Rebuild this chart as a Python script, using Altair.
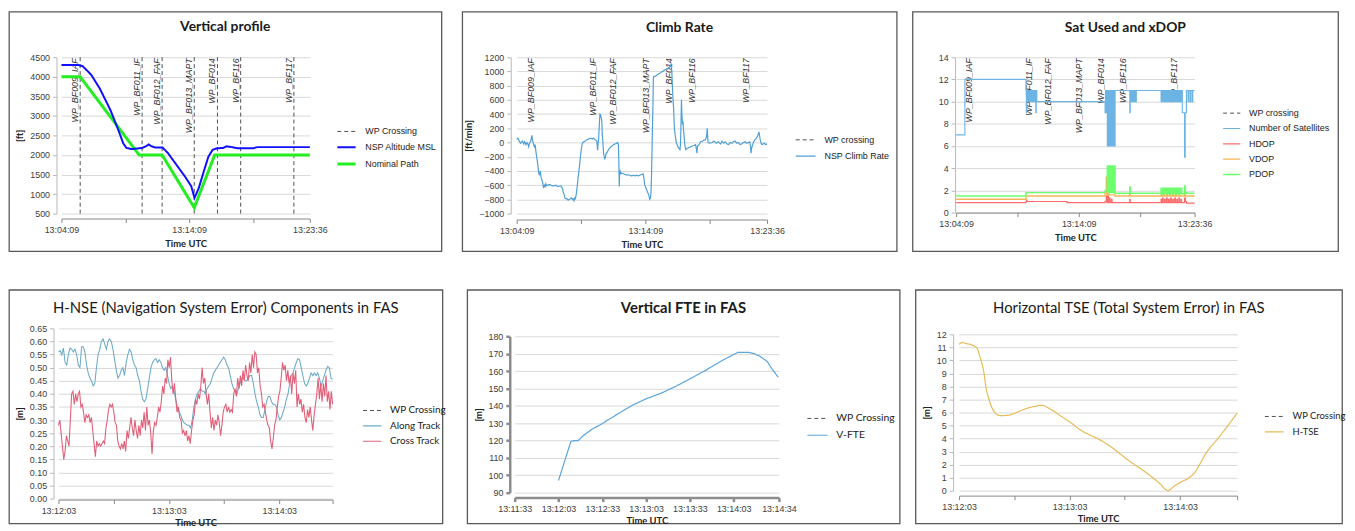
import altair as alt
import pandas as pd
import numpy as np

DAY = "2020-01-01"

# ---------------- data ----------------
WP_SEC = [88, 379, 473, 624, 733, 842, 1092]          # seconds after 13:04:09
WP_LABELS = ["WP_BF009_IAF", "WP_BF011_IF", "WP_BF012_FAF", "WP_BF013_MAPT",
             "WP_BF014", "WP_BF116", "WP_BF117"]

# Vertical profile (seconds after 13:04:09, ft)
ALT_T = [0, 80, 100, 140, 180, 230, 270, 290, 305, 330, 380, 400, 410, 420, 440, 475, 500,
         540, 580, 610, 625, 645, 670, 690, 710, 730, 760, 775, 800, 830, 900, 920, 1167]
ALT_V = [4300, 4300, 4270, 4050, 3700, 3150, 2600, 2300, 2180, 2150, 2180, 2230, 2270, 2230,
         2190, 2190, 2050, 1750, 1450, 1200, 900, 1150, 1600, 1950, 2130, 2170, 2180, 2220,
         2200, 2170, 2170, 2200, 2200]
NOM_T = [0, 88, 365, 473, 624, 720, 1167]
NOM_V = [4000, 4000, 2000, 2000, 650, 2000, 2000]

# Climb rate (seconds after 13:04:09, ft/min)
CLIMB = [(0,50),(6,60),(12,20),(18,-10),(21,0),(27,20),(33,-20),(37,10),(43,-30),(48,0),(52,-20),
 (56,-60),(60,-10),(66,20),(71,100),(74,30),(77,0),(80,-40),(83,-60),(86,-30),(89,-110),(93,-200),
 (98,-300),(102,-420),(106,-460),(110,-400),(113,-480),(117,-520),(121,-560),(125,-640),(129,-600),
 (133,-620),(136,-580),(140,-610),(144,-600),(150,-590),(159,-600),(167,-610),(175,-610),(183,-600),
 (190,-620),(198,-615),(205,-610),(210,-630),(213,-640),(217,-700),(221,-730),(225,-780),(228,-790),
 (234,-790),(240,-810),(244,-800),(250,-790),(255,-780),(259,-800),(263,-790),(267,-820),(271,-780),
 (274,-790),(278,-720),(282,-620),(286,-500),(290,-400),(294,-300),(297,-200),(301,-100),(305,-20),
 (309,0),(313,10),(320,20),(328,40),(336,50),(344,60),(352,50),(359,60),(365,40),(371,30),(374,10),
 (377,-110),(379,-30),(382,50),(386,300),(388,400),(391,390),(394,350),(397,300),(399,100),(402,0),
 (405,-150),(408,-200),(411,-230),(413,-220),(417,-150),(420,-150),(428,-100),(436,-70),(444,-50),
 (451,-30),(459,-20),(466,-10),(470,0),(474,-20),(476,-250),(478,-620),(480,-420),(482,-400),
 (486,-440),(489,-430),(497,-440),(505,-450),(513,-460),(520,-455),(528,-460),(536,-470),(544,-460),
 (552,-470),(558,-460),(566,-470),(574,-460),(582,-450),(589,-440),(593,-500),(597,-600),(604,-650),
 (610,-700),(616,-740),(620,-800),(624,-780),(626,-700),(629,-400),(632,100),(635,500),(637,900),
 (639,930),(645,930),(650,940),(658,960),(666,970),(673,990),(681,1000),(689,1020),(696,1030),
 (704,1040),(712,1060),(716,1080),(719,1100),(723,1000),(727,700),(731,500),(735,200),(737,150),
 (739,100),(744,0),(750,-50),(756,-80),(761,-100),(764,0),(766,300),(768,600),(770,400),(773,250),
 (775,300),(777,200),(780,100),(784,-50),(788,-100),(796,-80),(804,-70),(812,-60),(819,-50),
 (827,-40),(834,-30),(838,-100),(840,-150),(843,-50),(850,-30),(857,10),(865,20),(872,30),(880,40),
 (885,80),(888,200),(890,100),(892,0),(900,-10),(911,0),(920,20),(930,-10),(940,10),(950,-20),
 (957,20),(965,-10),(973,10),(980,-20),(988,-30),(995,0),(1003,-10),(1010,10),(1018,20),(1026,-10),
 (1034,0),(1041,-30),(1049,-20),(1057,0),(1064,10),(1072,-10),(1080,0),(1086,10),(1090,-60),
 (1092,-150),(1095,-80),(1099,-40),(1103,0),(1110,40),(1118,60),(1124,100),(1129,150),(1132,100),
 (1135,40),(1138,0),(1143,-30),(1149,-20),(1155,-10),(1160,-30),(1167,-20)]

# Satellites and DOP (seconds after 13:04:09)
SAT = [(0,7),(43,12),(342,11),(344,9),(346,11),(349,10),(352,11),(355,10),(358,11),(361,10),(364,11),
 (367,10),(370,11),(373,10),(376,11),(379,10),(382,11),(385,10),(388,11),(390,9),(392,11),(395,10),
 (729,9),(731,11),(733,9),(735,11),(737,9),(740,6),(742,11),(745,6),(748,11),(751,6),(754,11),(757,6),
 (760,11),(763,6),(766,11),(769,6),(772,11),(775,6),(778,11),(850,9),(852,11),(856,10),(860,11),
 (864,10),(868,11),(872,10),(876,11),(880,10),(882,11),(1003,10),(1006,11),(1010,10),(1014,11),
 (1018,10),(1022,11),(1026,10),(1030,11),(1034,10),(1038,11),(1042,10),(1046,11),(1050,10),(1054,11),
 (1058,10),(1062,11),(1066,10),(1070,11),(1074,10),(1078,11),(1082,10),(1086,11),(1090,10),(1094,11),
 (1098,10),(1102,11),(1107,9),(1118,5),(1121,9),(1127,11),(1135,10),(1138,11),(1145,10),(1148,11),
 (1155,10),(1158,11),(1167,11)]
HDOP = [(0,0.9),(342,1.0),(345,1.1),(347,1.0),(543,0.9),(729,1.0),(735,1.5),(738,0.9),(742,1.5),
 (745,0.9),(750,1.3),(753,0.9),(760,1.2),(763,0.9),(850,1.2),(852,0.9),(1003,1.2),(1006,0.9),
 (1010,1.3),(1013,0.9),(1020,1.2),(1023,0.9),(1030,1.3),(1033,0.9),(1040,1.2),(1043,0.9),(1050,1.3),
 (1053,0.9),(1060,1.2),(1063,0.9),(1070,1.3),(1073,0.9),(1080,1.2),(1083,0.9),(1090,1.3),(1093,0.9),
 (1100,1.2),(1103,0.9),(1118,1.3),(1122,1.0),(1127,0.85),(1167,0.85)]
VDOP = [(0,1.2),(342,1.5),(729,1.8),(735,3.2),(738,1.6),(745,2.0),(748,1.6),(778,1.5),(850,1.9),
 (852,1.5),(1003,1.7),(1006,1.5),(1015,1.8),(1018,1.5),(1030,1.8),(1033,1.5),(1045,1.8),(1048,1.5),
 (1060,1.8),(1063,1.5),(1075,1.8),(1078,1.5),(1090,1.8),(1093,1.5),(1118,1.7),(1122,1.5),(1167,1.5)]
PDOP = [(0,1.5),(342,1.8),(729,2.0),(740,4.2),(742,1.8),(745,4.2),(748,1.8),(751,4.2),(754,1.8),
 (757,4.2),(760,1.8),(763,4.2),(766,1.8),(769,4.2),(772,1.8),(775,4.2),(778,1.75),(850,2.3),
 (852,1.75),(1003,2.2),(1006,1.7),(1010,2.2),(1013,1.7),(1017,2.2),(1020,1.7),(1024,2.2),(1027,1.7),
 (1031,2.2),(1034,1.7),(1038,2.2),(1041,1.7),(1045,2.2),(1048,1.7),(1052,2.2),(1055,1.7),(1059,2.2),
 (1062,1.7),(1066,2.2),(1069,1.7),(1073,2.2),(1076,1.7),(1080,2.2),(1083,1.7),(1087,2.2),(1090,1.7),
 (1094,2.2),(1097,1.7),(1101,2.2),(1104,1.7),(1118,2.4),(1122,1.8),(1127,1.75),(1167,1.75)]

# H-NSE components (uniform samples from 13:12:03 to 13:14:32)
ALONG = [0.56,0.565,0.55,0.575,0.52,0.51,0.55,0.575,0.57,0.56,0.57,0.55,0.51,0.50,0.58,0.58,0.56,
 0.51,0.48,0.46,0.45,0.43,0.44,0.50,0.55,0.57,0.60,0.61,0.59,0.57,0.60,0.61,0.60,0.57,0.53,0.49,0.46,
 0.47,0.49,0.50,0.47,0.52,0.55,0.57,0.56,0.53,0.51,0.50,0.47,0.45,0.41,0.38,0.37,0.38,0.42,0.46,0.50,
 0.52,0.53,0.535,0.52,0.53,0.52,0.50,0.49,0.50,0.47,0.44,0.42,0.43,0.41,0.38,0.35,0.33,0.32,0.30,
 0.29,0.285,0.28,0.28,0.27,0.30,0.35,0.38,0.40,0.41,0.42,0.41,0.41,0.40,0.42,0.43,0.44,0.46,0.48,
 0.49,0.50,0.51,0.52,0.53,0.54,0.53,0.51,0.50,0.47,0.44,0.42,0.41,0.40,0.42,0.44,0.46,0.46,0.45,
 0.45,0.46,0.47,0.47,0.44,0.40,0.37,0.35,0.32,0.31,0.31,0.34,0.37,0.39,0.39,0.37,0.36,0.36,0.35,
 0.32,0.30,0.31,0.33,0.35,0.38,0.40,0.44,0.47,0.48,0.50,0.52,0.535,0.53,0.50,0.47,0.44,0.43,0.44,
 0.46,0.48,0.47,0.48,0.47,0.48,0.46,0.43,0.45,0.47,0.49,0.505,0.50,0.46,0.455]
CROSS = [0.28,0.30,0.25,0.20,0.15,0.18,0.24,0.22,0.20,0.30,0.40,0.41,0.36,0.40,0.37,0.40,0.41,0.35,
 0.36,0.33,0.29,0.32,0.31,0.32,0.29,0.31,0.26,0.21,0.16,0.22,0.20,0.21,0.20,0.21,0.22,0.21,0.27,0.30,
 0.34,0.36,0.35,0.36,0.33,0.29,0.28,0.22,0.20,0.19,0.21,0.19,0.22,0.18,0.26,0.23,0.27,0.31,0.27,0.24,
 0.30,0.26,0.23,0.28,0.24,0.30,0.27,0.33,0.26,0.35,0.28,0.30,0.25,0.17,0.26,0.29,0.28,0.31,0.35,0.33,
 0.37,0.43,0.40,0.46,0.44,0.53,0.50,0.54,0.45,0.40,0.44,0.38,0.33,0.35,0.31,0.30,0.25,0.26,0.24,0.26,
 0.22,0.24,0.21,0.26,0.30,0.32,0.38,0.36,0.40,0.38,0.43,0.50,0.44,0.46,0.40,0.36,0.40,0.33,0.27,0.31,
 0.26,0.30,0.28,0.32,0.29,0.24,0.28,0.33,0.35,0.36,0.33,0.35,0.33,0.34,0.33,0.40,0.42,0.39,0.46,0.42,
 0.47,0.43,0.49,0.45,0.51,0.47,0.45,0.52,0.48,0.55,0.50,0.56,0.55,0.48,0.50,0.43,0.40,0.35,0.36,0.33,
 0.30,0.28,0.27,0.22,0.19,0.23,0.28,0.30,0.35,0.39,0.41,0.46,0.52,0.49,0.51,0.45,0.49,0.44,0.47,0.40,
 0.48,0.44,0.49,0.35,0.40,0.36,0.38,0.33,0.36,0.31,0.29,0.34,0.31,0.35,0.30,0.26,0.32,0.36,0.40,0.46,
 0.38,0.44,0.37,0.44,0.39,0.47,0.37,0.41,0.34,0.41,0.36]
NSE_SPAN = 149  # seconds

# Vertical FTE (seconds after 13:11:33, m)
VFTE = [(30,97),(38.5,119.5),(41,120),(43.5,120),(46.5,122.5),(52,126),(60,129.8),(70,135),
 (81,140.5),(90,144),(101,147.5),(111,151.5),(120,155.5),(131,160.5),(142,166),(150,169.5),
 (153,170.8),(160,170.8),(164,170),(168,168.5),(173,165.5),(176,161.5),(180.5,156.5)]

# Horizontal TSE (seconds after 13:12:03, m)
HTSE = [(0,11.24),(1.8,11.37),(3.6,11.3),(7.2,11.17),(9.9,10.9),(11.6,10.15),(13.4,9.14),
 (14.7,7.87),(16.1,7.1),(17.9,6.35),(19.7,5.96),(22.4,5.76),(26.9,5.79),(30.4,5.96),(35.8,6.27),
 (41.2,6.47),(44.8,6.55),(50.1,6.22),(55.5,5.71),(60.9,5.2),(66.3,4.62),(71.6,4.24),(77,3.86),
 (82.4,3.38),(87.8,2.79),(93.1,2.21),(98.5,1.7),(103.9,1.14),(109.3,0.51),(113.4,0.0),(116.4,0.3),
 (120,0.63),(124.5,0.96),(128,1.4),(130.7,2.03),(134.3,2.92),(139.7,3.86),(145.1,4.82),(151,5.96)]

# ---------------- helpers ----------------
TICK_FONT = "Liberation Sans"
TITLE_FONT = "Lato"
WP_NAME = "WP Crossing"
WP_COLOR = "#505050"


def stamp(base, sec):
    t = pd.Timestamp(f"{DAY} {base}") + pd.to_timedelta(float(sec), unit="s")
    return t.strftime("%Y-%m-%dT%H:%M:%S.%f")[:-3]


def dt(hms):
    h, m, s = (int(p) for p in hms.split(":"))
    return alt.DateTime(year=2020, month=1, date=1, hours=h, minutes=m, seconds=s)


def make_panel(*, key, title, tsize, tweight, toff, W, H, x_rng, y_rng, x_axis_at, y_axis_at,
               base, x_dom, x_ticks, x_shown, y_dom, y_ticks, y_fmt, y_title,
               series, names, colors, dashes, widths, leg_x, leg_y, leg_size, leg_font,
               leg_font_size, leg_pad=0, wp=False, interp="linear", tick_size=9,
               dom_color="#888888", dom_width=1, ydom_color="#b8b8b8", ydom_width=1,
               xtitle_pad=4):
    field = "s" + key
    rows = []
    for name, pts in series:
        for sec, val in pts:
            rows.append({"t": stamp(base, sec), "v": val, field: name})
    df = pd.DataFrame(rows)

    label_expr = ("indexof([" + ",".join(f"'{s}'" for s in x_shown) +
                  "], datum.label) >= 0 ? datum.label : ''")
    x_axis = alt.Axis(values=[dt(v) for v in x_ticks], format="%H:%M:%S", labelExpr=label_expr,
                      title="Time UTC", offset=x_axis_at - H, grid=False, labelFlush=False,
                      domainColor=dom_color, domainWidth=dom_width, tickColor=dom_color,
                      tickWidth=dom_width, tickSize=4, labelFont=TICK_FONT,
                      labelFontSize=tick_size, labelColor="#404040", labelPadding=3,
                      titleFont=TITLE_FONT, titleFontSize=9.5, titleFontWeight="bold",
                      titleColor="#222222", titlePadding=xtitle_pad, labelOverlap=False)
    x_scale = alt.Scale(domain=[dt(x_dom[0]), dt(x_dom[1])], range=list(x_rng), nice=False)
    y_axis_kw = dict(values=y_ticks, format=y_fmt, offset=-y_axis_at, grid=True,
                     gridColor="#d9d9d9", domainColor=ydom_color, domainWidth=ydom_width,
                     tickColor=ydom_color, tickWidth=ydom_width, tickSize=4, labelFlush=False,
                     labelFont=TICK_FONT, labelFontSize=tick_size, labelColor="#404040",
                     labelPadding=3, titleFont=TITLE_FONT, titleFontSize=9.5,
                     titleFontWeight="bold", titleColor="#222222", titlePadding=5)
    if y_title:
        y_axis = alt.Axis(title=y_title, **y_axis_kw)
    else:
        y_axis = alt.Axis(title=None, **y_axis_kw)
    y_scale = alt.Scale(domain=list(y_dom), range=[y_rng[1], y_rng[0]], nice=False, zero=False)

    leg = alt.Legend(orient="none", legendX=leg_x, legendY=leg_y, title=None, symbolType="stroke",
                     symbolSize=leg_size, symbolStrokeWidth=1.6, labelFont=leg_font,
                     labelFontSize=leg_font_size, labelColor="#222222", rowPadding=leg_pad,
                     labelOffset=8)
    color = alt.Color(f"{field}:N", scale=alt.Scale(domain=names, range=colors), legend=leg)
    dash = alt.StrokeDash(f"{field}:N", scale=alt.Scale(domain=names, range=dashes), legend=leg)
    swidth = alt.StrokeWidth(f"{field}:N", scale=alt.Scale(domain=names, range=widths),
                             legend=None)
    X = alt.X("t:T", scale=x_scale, axis=x_axis)

    layers = []
    if wp:
        wdf = pd.DataFrame({"t": [stamp(base, s) for s in WP_SEC], "label": WP_LABELS,
                            field: [WP_NAME] * len(WP_SEC)})
        rule = alt.Chart(wdf).mark_rule(strokeWidth=1).encode(
            x=X,
            y=alt.YDatum(y_dom[0], type="quantitative", scale=y_scale, axis=y_axis),
            y2=alt.Y2Datum(y_dom[1]),
            color=color, strokeDash=dash)
        text = alt.Chart(wdf).mark_text(angle=270, align="right", baseline="bottom", dx=-1,
                                        dy=0, font=TICK_FONT, fontSize=9, fontStyle="italic",
                                        color="#333333").encode(
            x=X,
            y=alt.YDatum(y_dom[1], type="quantitative", scale=y_scale, axis=y_axis),
            text="label:N")
        layers += [rule, text]
    line = alt.Chart(df).mark_line(interpolate=interp).encode(
        x=X, y=alt.Y("v:Q", scale=y_scale, axis=y_axis),
        color=color, strokeDash=dash, strokeWidth=swidth)
    layers.append(line)

    return alt.layer(*layers).properties(
        width=W, height=H,
        title=alt.TitleParams(text=title, font=TITLE_FONT, fontSize=tsize, fontWeight=tweight,
                              color="#1a1a1a", anchor="middle", frame="group", offset=-toff))


WP_DASH = [4, 3]
SOLID = [1, 0]

p1 = make_panel(
    key="1", title="Vertical profile", tsize=14, tweight="bold", toff=23, W=437, H=242,
    x_rng=(53, 304), y_rng=(46, 204), x_axis_at=209, y_axis_at=48,
    base="13:04:09", x_dom=("13:04:09", "13:23:36"),
    x_ticks=["13:04:09", "13:09:09", "13:14:09", "13:19:09", "13:23:36"],
    x_shown=["13:04:09", "13:14:09", "13:23:36"],
    y_dom=(500, 4500), y_ticks=list(range(500, 4501, 500)), y_fmt="d", y_title="[ft]",
    series=[("Nominal Path", list(zip(NOM_T, NOM_V))),
            ("NSP Altitude MSL", list(zip(ALT_T, ALT_V)))],
    names=[WP_NAME, "NSP Altitude MSL", "Nominal Path"],
    colors=[WP_COLOR, "#1010ff", "#22ee22"], dashes=[WP_DASH, SOLID, SOLID],
    widths=[1, 3, 2.5], leg_x=330, leg_y=111, leg_size=340, leg_font=TICK_FONT,
    leg_font_size=9, leg_pad=0.5, wp=True)

p2 = make_panel(
    key="2", title="Climb Rate", tsize=14, tweight="bold", toff=24, W=439, H=242,
    x_rng=(55, 308), y_rng=(46, 204), x_axis_at=210, y_axis_at=49,
    base="13:04:09", x_dom=("13:04:09", "13:23:36"),
    x_ticks=["13:04:09", "13:09:09", "13:14:09", "13:19:09", "13:23:36"],
    x_shown=["13:04:09", "13:14:09", "13:23:36"],
    y_dom=(-1000, 1200), y_ticks=list(range(-1000, 1201, 200)), y_fmt="d", y_title="[ft/min]",
    series=[("NSP Climb Rate", CLIMB)],
    names=["WP crossing", "NSP Climb Rate"], colors=[WP_COLOR, "#4f9fd8"],
    dashes=[WP_DASH, SOLID], widths=[1, 1.2], leg_x=336, leg_y=119, leg_size=400,
    leg_font=TICK_FONT, leg_font_size=9, wp=True)

p3 = make_panel(
    key="3", title="Sat Used and xDOP", tsize=14, tweight="bold", toff=24, W=430, H=242,
    x_rng=(44, 285), y_rng=(46, 203), x_axis_at=203, y_axis_at=43,
    base="13:04:09", x_dom=("13:04:09", "13:23:36"),
    x_ticks=["13:04:09", "13:09:09", "13:14:09", "13:19:09", "13:23:36"],
    x_shown=["13:04:09", "13:14:09", "13:23:36"],
    y_dom=(0, 14), y_ticks=list(range(0, 15, 2)), y_fmt="d", y_title=None,
    series=[("HDOP", HDOP), ("VDOP", VDOP), ("PDOP", PDOP), ("Number of Satellites", SAT)],
    names=["WP crossing", "Number of Satellites", "HDOP", "VDOP", "PDOP"],
    colors=[WP_COLOR, "#6cb4e4", "#ff6b6b", "#f5b556", "#6dff6d"],
    dashes=[WP_DASH, SOLID, SOLID, SOLID, SOLID], widths=[1, 1.5, 1.2, 1.2, 1.2],
    leg_x=313, leg_y=93, leg_size=300, leg_font=TICK_FONT, leg_font_size=9, leg_pad=0.5,
    wp=True, interp="step-after")

p4 = make_panel(
    key="4", title="H-NSE (Navigation System Error) Components in FAS", tsize=15,
    tweight="normal", toff=26, W=438, H=236,
    x_rng=(50, 327), y_rng=(39, 211), x_axis_at=212, y_axis_at=45,
    base="13:12:03", x_dom=("13:12:03", "13:14:32"),
    x_ticks=["13:12:03", "13:12:33", "13:13:03", "13:13:33", "13:14:03", "13:14:32"],
    x_shown=["13:12:03", "13:13:03", "13:14:03"],
    y_dom=(0, 0.65), y_ticks=[round(0.05 * i, 2) for i in range(14)], y_fmt=".2f",
    y_title="[m]",
    series=[("Along Track", list(zip(np.linspace(0, NSE_SPAN, len(ALONG)), ALONG))),
            ("Cross Track", list(zip(np.linspace(0, NSE_SPAN, len(CROSS)), CROSS)))],
    names=[WP_NAME, "Along Track", "Cross Track"],
    colors=[WP_COLOR, "#6aaac8", "#e0607a"], dashes=[WP_DASH, SOLID, SOLID],
    widths=[1, 1.1, 1.1], leg_x=357, leg_y=112, leg_size=340, leg_font=TITLE_FONT,
    leg_font_size=10, leg_pad=0.5, xtitle_pad=2)

p5 = make_panel(
    key="5", title="Vertical FTE in FAS", tsize=15, tweight="bold", toff=26, W=437, H=236,
    x_rng=(48, 315), y_rng=(47, 205), x_axis_at=210, y_axis_at=43,
    base="13:11:33", x_dom=("13:11:33", "13:14:34"),
    x_ticks=["13:11:33", "13:12:03", "13:12:33", "13:13:03", "13:13:33", "13:14:03", "13:14:34"],
    x_shown=["13:11:33", "13:12:03", "13:12:33", "13:13:03", "13:13:33", "13:14:03", "13:14:34"],
    y_dom=(90, 180), y_ticks=list(range(90, 181, 10)), y_fmt="d", y_title="[m]",
    series=[("V-FTE", VFTE)],
    names=[WP_NAME, "V-FTE"], colors=[WP_COLOR, "#5aa5e0"], dashes=[WP_DASH, SOLID],
    widths=[1, 1.2], leg_x=343, leg_y=119, leg_size=420, leg_font=TITLE_FONT,
    leg_font_size=10.5, dom_color="#8c8c8c", dom_width=2.5, ydom_color="#8c8c8c",
    ydom_width=2.5, xtitle_pad=2)

p6 = make_panel(
    key="6", title="Horizontal TSE (Total System Error) in FAS", tsize=15, tweight="normal",
    toff=26, W=431, H=236,
    x_rng=(44, 325), y_rng=(45, 203), x_axis_at=208, y_axis_at=38,
    base="13:12:03", x_dom=("13:12:03", "13:14:34"),
    x_ticks=["13:12:03", "13:12:33", "13:13:03", "13:13:33", "13:14:03", "13:14:34"],
    x_shown=["13:12:03", "13:13:03", "13:14:03"],
    y_dom=(0, 12), y_ticks=list(range(0, 13)), y_fmt="d", y_title="[m]",
    series=[("H-TSE", HTSE)],
    names=[WP_NAME, "H-TSE"], colors=[WP_COLOR, "#e8bb55"], dashes=[WP_DASH, SOLID],
    widths=[1, 1.2], leg_x=352, leg_y=118, leg_size=360, leg_font=TITLE_FONT,
    leg_font_size=9.5, interp="monotone", xtitle_pad=2)

IND = dict(color="independent", strokeDash="independent", strokeWidth="independent",
           x="independent", y="independent")


def hrow(a, b, c):
    inner = alt.hconcat(a, b, spacing=19).resolve_scale(**IND)
    return alt.hconcat(inner, c, spacing=14).resolve_scale(**IND)


chart = alt.vconcat(hrow(p1, p2, p3), hrow(p4, p5, p6), spacing=37).resolve_scale(**IND)
chart = chart.properties(padding=0, background="white").configure_view(
    stroke="#595959", strokeWidth=1.3, fill="white")

chart.save("out.html", embed_options={"renderer": "svg", "actions": False})
